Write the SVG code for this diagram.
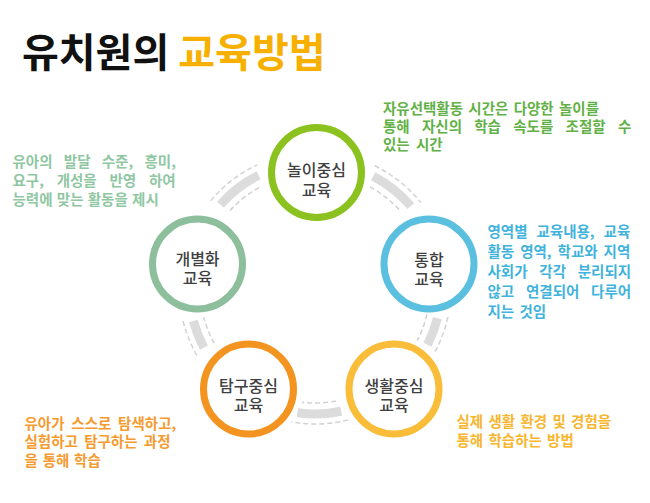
<svg xmlns="http://www.w3.org/2000/svg" xmlns:xlink="http://www.w3.org/1999/xlink" width="650" height="503" viewBox="0 0 650 503">
<style>
.title{font-family:"Noto Sans CJK KR","Noto Sans",sans-serif;font-size:40px;font-weight:700}
.ring{fill:#fff;stroke-width:7}
.lbl{font-family:"Noto Sans CJK KR","Noto Sans",sans-serif;font-size:16px;font-weight:500;fill:#404040;text-anchor:middle}
.desc{font-family:"Noto Sans CJK KR","Noto Sans",sans-serif;font-size:14.5px;font-weight:700}
.band{fill:none;stroke:#dcdcdc;stroke-width:9}
.dash{fill:none;stroke:#d2d2d2;stroke-width:1.5;stroke-dasharray:5 3}
</style>
<defs>
<g id="linkA">
<path class="band" d="M123.68,-24.04 A126,126 0 0 1 123.68,24.04"/>
<path class="dash" d="M113.25,-19.97 A115,115 0 0 1 113.25,19.97"/>
<path class="dash" d="M132.78,-29.43 A136,136 0 0 1 132.78,29.43"/>
</g>
<g id="linkB">
<path class="band" d="M125.19,-14.26 A126,126 0 0 1 125.19,14.26"/>
<path class="dash" d="M114.14,-14.02 A115,115 0 0 1 114.14,14.02"/>
<path class="dash" d="M134.68,-18.93 A136,136 0 0 1 134.68,18.93"/>
</g>
<g id="linkC">
<path class="band" d="M124.09,-21.88 A126,126 0 0 1 124.09,21.88"/>
<path class="dash" d="M113.74,-17.0 A115,115 0 0 1 113.74,17.0"/>
<path class="dash" d="M133.03,-28.28 A136,136 0 0 1 133.03,28.28"/>
</g>
</defs>
<rect width="650" height="503" fill="#fff"/>
<g id="title">
<text class="title" x="22" y="67"><tspan fill="#111">유치원의 </tspan><tspan fill="#f8b000">교육방법</tspan></text>
</g>
<g id="connectors">
<use xlink:href="#linkA" transform="translate(315,288) rotate(-51.5)"/>
<use xlink:href="#linkB" transform="translate(315,288) rotate(20.3)"/>
<use xlink:href="#linkC" transform="translate(315,288) rotate(88)"/>
<use xlink:href="#linkB" transform="translate(315,288) rotate(158.3)"/>
<use xlink:href="#linkA" transform="translate(315,288) rotate(-127.6)"/>
</g>
<g id="node-play">
<circle class="ring" cx="316.5" cy="172.5" r="45" stroke="#8cc21f"/>
<text class="lbl"><tspan x="316.5" y="176">놀이중심</tspan><tspan x="316.5" y="196">교육</tspan></text>
</g>
<g id="node-integrated">
<circle class="ring" cx="429" cy="264" r="45" stroke="#5bbfdf"/>
<text class="lbl"><tspan x="429" y="266">통합</tspan><tspan x="429" y="285">교육</tspan></text>
</g>
<g id="node-life">
<circle class="ring" cx="394" cy="389" r="45" stroke="#f9bd3a"/>
<text class="lbl"><tspan x="394" y="392">생활중심</tspan><tspan x="394" y="411">교육</tspan></text>
</g>
<g id="node-inquiry">
<circle class="ring" cx="248.5" cy="389" r="45" stroke="#f39421"/>
<text class="lbl"><tspan x="248.5" y="392">탐구중심</tspan><tspan x="248.5" y="411">교육</tspan></text>
</g>
<g id="node-individual">
<circle class="ring" cx="197.5" cy="264" r="45" stroke="#8dbf9c"/>
<text class="lbl"><tspan x="197.5" y="265">개별화</tspan><tspan x="197.5" y="284">교육</tspan></text>
</g>
<g id="desc-play" class="desc" fill="#62b146">
<text x="383" y="114" word-spacing="2">자유선택활동 시간은 다양한 놀이를</text>
<text x="383" y="132" word-spacing="9">통해 자신의 학습 속도를 조절할 수</text>
<text x="383" y="150" word-spacing="3">있는 시간</text>
</g>
<g id="desc-individual" class="desc" fill="#8fc7a3">
<text x="12.5" y="167" word-spacing="8">유아의 발달 수준, 흥미,</text>
<text x="12.5" y="186" word-spacing="9.5">요구, 개성을 반영 하여</text>
<text x="12.5" y="205" word-spacing="1">능력에 맞는 활동을 제시</text>
</g>
<g id="desc-integrated" class="desc" fill="#3fb3dc">
<text x="487.5" y="237" word-spacing="5.7">영역별 교육내용, 교육</text>
<text x="487.5" y="257" word-spacing="2.7">활동 영역, 학교와 지역</text>
<text x="487.5" y="277" word-spacing="8.5">사회가 각각 분리되지</text>
<text x="487.5" y="297" word-spacing="8.5">않고 연결되어 다루어</text>
<text x="487.5" y="317" word-spacing="2">지는 것임</text>
</g>
<g id="desc-inquiry" class="desc" fill="#f59a2e">
<text x="24.5" y="429" word-spacing="3.5">유아가 스스로 탐색하고,</text>
<text x="24.5" y="447" word-spacing="3">실험하고 탐구하는 과정</text>
<text x="24.5" y="466" word-spacing="1.5">을 통해 학습</text>
</g>
<g id="desc-life" class="desc" fill="#f8b52e">
<text x="456.5" y="427" word-spacing="2">실제 생활 환경 및 경험을</text>
<text x="456.5" y="446" word-spacing="2">통해 학습하는 방법</text>
</g>
</svg>
